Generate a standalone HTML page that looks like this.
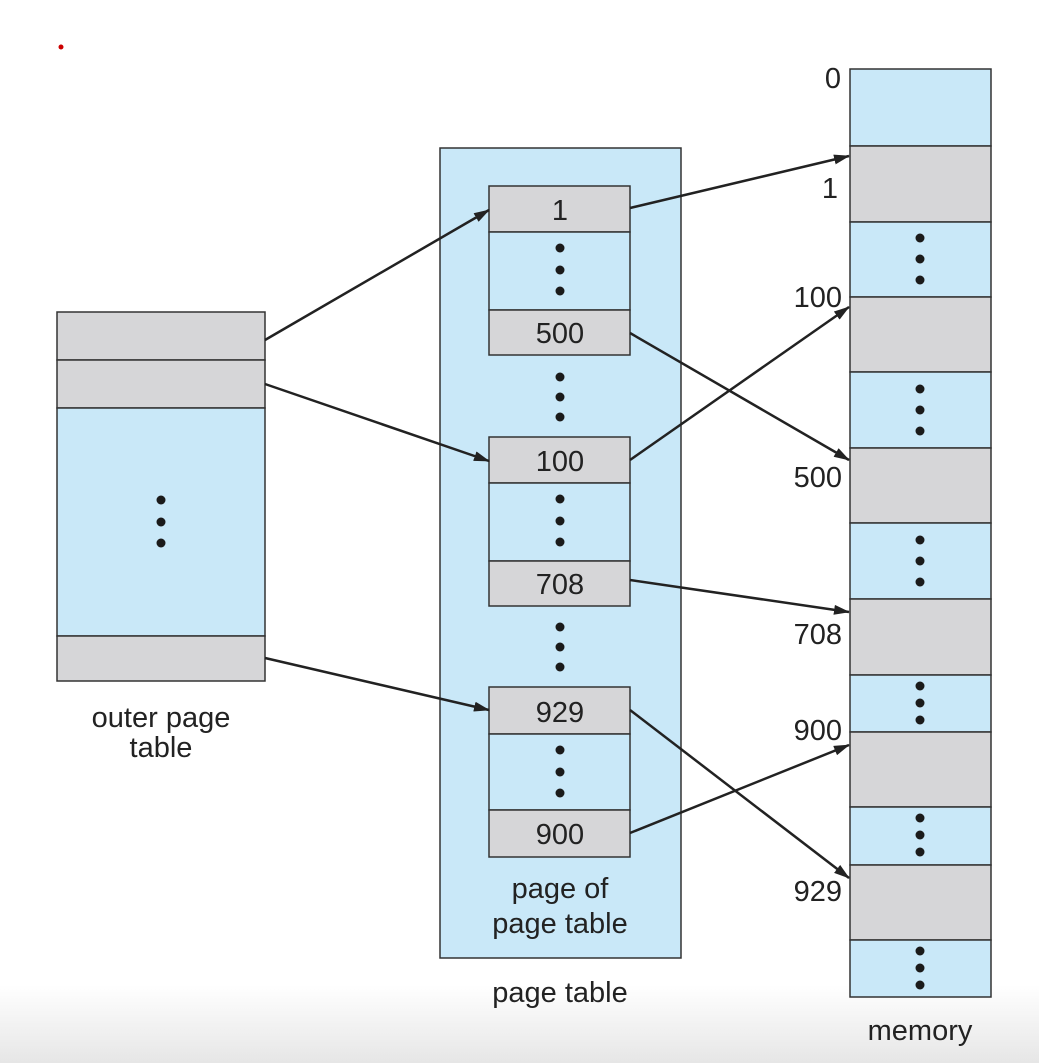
<!DOCTYPE html>
<html><head><meta charset="utf-8"><style>
html,body{margin:0;padding:0;}
body{width:1039px;height:1063px;overflow:hidden;background:linear-gradient(to bottom,#fff 0,#fff 985px,#e6e6e6 1063px);}
svg{position:absolute;left:0;top:0;}
text{font-family:"Liberation Sans",sans-serif;font-size:29px;fill:#222;}
</style></head><body>
<svg width="1039" height="1063" viewBox="0 0 1039 1063">
<defs><marker id="a" markerWidth="16" markerHeight="10" refX="15" refY="5" orient="auto" markerUnits="userSpaceOnUse"><path d="M0,0 L16,5 L0,10 z" fill="#222"/></marker></defs>
<circle cx="61" cy="47" r="2.5" fill="#c00"/>
<g stroke="#333" stroke-width="1.5">
<rect x="57" y="312" width="208" height="48" fill="#d6d6d8"/>
<rect x="57" y="360" width="208" height="48" fill="#d6d6d8"/>
<rect x="57" y="408" width="208" height="228" fill="#c9e8f8"/>
<rect x="57" y="636" width="208" height="45" fill="#d6d6d8"/>
<rect x="440" y="148" width="241" height="810" fill="#c9e8f8"/>
<rect x="489" y="186" width="141" height="46" fill="#d6d6d8"/>
<rect x="489" y="232" width="141" height="78" fill="#c9e8f8"/>
<rect x="489" y="310" width="141" height="45" fill="#d6d6d8"/>
<rect x="489" y="437" width="141" height="46" fill="#d6d6d8"/>
<rect x="489" y="483" width="141" height="78" fill="#c9e8f8"/>
<rect x="489" y="561" width="141" height="45" fill="#d6d6d8"/>
<rect x="489" y="687" width="141" height="47" fill="#d6d6d8"/>
<rect x="489" y="734" width="141" height="76" fill="#c9e8f8"/>
<rect x="489" y="810" width="141" height="47" fill="#d6d6d8"/>
<rect x="850" y="69" width="141" height="77" fill="#c9e8f8"/>
<rect x="850" y="146" width="141" height="76" fill="#d6d6d8"/>
<rect x="850" y="222" width="141" height="75" fill="#c9e8f8"/>
<rect x="850" y="297" width="141" height="75" fill="#d6d6d8"/>
<rect x="850" y="372" width="141" height="76" fill="#c9e8f8"/>
<rect x="850" y="448" width="141" height="75" fill="#d6d6d8"/>
<rect x="850" y="523" width="141" height="76" fill="#c9e8f8"/>
<rect x="850" y="599" width="141" height="76" fill="#d6d6d8"/>
<rect x="850" y="675" width="141" height="57" fill="#c9e8f8"/>
<rect x="850" y="732" width="141" height="75" fill="#d6d6d8"/>
<rect x="850" y="807" width="141" height="58" fill="#c9e8f8"/>
<rect x="850" y="865" width="141" height="75" fill="#d6d6d8"/>
<rect x="850" y="940" width="141" height="57" fill="#c9e8f8"/>
</g>
<g fill="#1a1a1a">
<circle cx="161" cy="500" r="4.5"/><circle cx="161" cy="522" r="4.5"/><circle cx="161" cy="543" r="4.5"/>
<circle cx="560" cy="248" r="4.5"/><circle cx="560" cy="270" r="4.5"/><circle cx="560" cy="291" r="4.5"/>
<circle cx="560" cy="377" r="4.5"/><circle cx="560" cy="397" r="4.5"/><circle cx="560" cy="417" r="4.5"/>
<circle cx="560" cy="499" r="4.5"/><circle cx="560" cy="521" r="4.5"/><circle cx="560" cy="542" r="4.5"/>
<circle cx="560" cy="627" r="4.5"/><circle cx="560" cy="647" r="4.5"/><circle cx="560" cy="667" r="4.5"/>
<circle cx="560" cy="750" r="4.5"/><circle cx="560" cy="772" r="4.5"/><circle cx="560" cy="793" r="4.5"/>
<circle cx="920" cy="238" r="4.5"/><circle cx="920" cy="259" r="4.5"/><circle cx="920" cy="280" r="4.5"/>
<circle cx="920" cy="389" r="4.5"/><circle cx="920" cy="410" r="4.5"/><circle cx="920" cy="431" r="4.5"/>
<circle cx="920" cy="540" r="4.5"/><circle cx="920" cy="561" r="4.5"/><circle cx="920" cy="582" r="4.5"/>
<circle cx="920" cy="686" r="4.5"/><circle cx="920" cy="703" r="4.5"/><circle cx="920" cy="720" r="4.5"/>
<circle cx="920" cy="818" r="4.5"/><circle cx="920" cy="835" r="4.5"/><circle cx="920" cy="852" r="4.5"/>
<circle cx="920" cy="951" r="4.5"/><circle cx="920" cy="968" r="4.5"/><circle cx="920" cy="985" r="4.5"/>
</g>
<g stroke="#222" stroke-width="2.5" marker-end="url(#a)">
<line x1="265" y1="340" x2="489" y2="210"/>
<line x1="265" y1="384" x2="489" y2="461"/>
<line x1="265" y1="658" x2="489" y2="710"/>
<line x1="630" y1="208" x2="849" y2="156"/>
<line x1="630" y1="333" x2="849" y2="460"/>
<line x1="630" y1="460" x2="849" y2="307"/>
<line x1="630" y1="580" x2="849" y2="612"/>
<line x1="630" y1="710" x2="849" y2="878"/>
<line x1="630" y1="833" x2="849" y2="745"/>
</g>
<g text-anchor="middle">
<text x="560" y="220">1</text>
<text x="560" y="343">500</text>
<text x="560" y="471">100</text>
<text x="560" y="594">708</text>
<text x="560" y="722">929</text>
<text x="560" y="844">900</text>
<text x="560" y="898">page of</text>
<text x="560" y="933">page table</text>
<text x="560" y="1002">page table</text>
<text x="161" y="727">outer page</text>
<text x="161" y="757">table</text>
<text x="920" y="1040">memory</text>
</g>
<g text-anchor="end">
<text x="841" y="88">0</text>
<text x="838" y="198">1</text>
<text x="842" y="307">100</text>
<text x="842" y="487">500</text>
<text x="842" y="644">708</text>
<text x="842" y="740">900</text>
<text x="842" y="901">929</text>
</g>
</svg>
</body></html>
